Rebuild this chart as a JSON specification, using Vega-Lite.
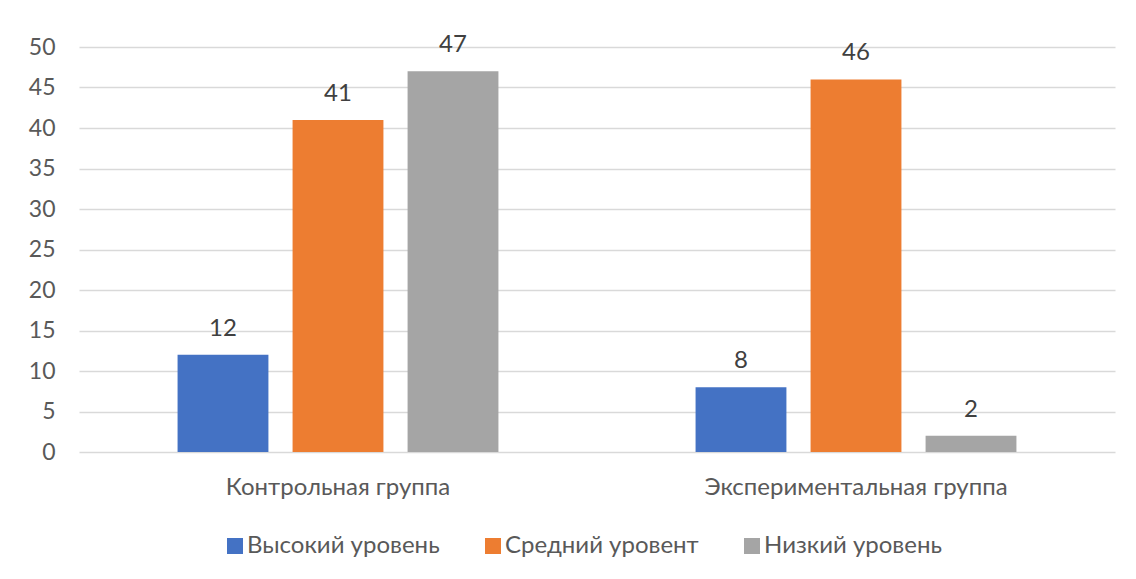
{
  "$schema": "https://vega.github.io/schema/vega-lite/v6.json",
  "autosize": {"type": "none"},
  "width": 1036,
  "height": 405,
  "padding": {"left": 79, "top": 47, "right": 21, "bottom": 127},
  "background": "#ffffff",
  "config": {
    "font": "Lato",
    "view": {"stroke": null},
    "axis": {"labelFont": "Lato", "labelColor": "#595959", "labelFontSize": 24, "labelLimit": 0}
  },
  "data": {
    "values": [
      {"group": "Контрольная группа", "level": "Высокий уровень", "value": 12},
      {"group": "Контрольная группа", "level": "Средний уровент", "value": 41},
      {"group": "Контрольная группа", "level": "Низкий уровень", "value": 47},
      {"group": "Экспериментальная группа", "level": "Высокий уровень", "value": 8},
      {"group": "Экспериментальная группа", "level": "Средний уровент", "value": 46},
      {"group": "Экспериментальная группа", "level": "Низкий уровень", "value": 2}
    ]
  },
  "encoding": {
    "x": {
      "field": "group",
      "type": "nominal",
      "sort": null,
      "scale": {"paddingInner": 0, "paddingOuter": 0},
      "axis": {"title": null, "labelAngle": 0, "domain": false, "ticks": false, "labelPadding": 23}
    },
    "xOffset": {
      "field": "level",
      "type": "nominal",
      "sort": ["Высокий уровень", "Средний уровент", "Низкий уровень"],
      "scale": {"paddingInner": 0.21, "paddingOuter": 0.857}
    },
    "y": {
      "field": "value",
      "type": "quantitative",
      "scale": {"domain": [0, 50], "nice": false},
      "axis": {
        "title": null,
        "values": [0, 5, 10, 15, 20, 25, 30, 35, 40, 45, 50],
        "domain": false,
        "ticks": false,
        "labelFontSize": 23,
        "labelPadding": 24,
        "gridColor": "#d9d9d9",
        "gridWidth": 1.3
      }
    }
  },
  "layer": [
    {
      "mark": {"type": "bar"},
      "encoding": {
        "color": {
          "field": "level",
          "type": "nominal",
          "scale": {
            "domain": ["Высокий уровень", "Средний уровент", "Низкий уровень"],
            "range": ["#4472c4", "#ed7d31", "#a5a5a5"]
          },
          "legend": {
            "title": null,
            "orient": "none",
            "direction": "horizontal",
            "legendX": 144,
            "legendY": 487,
            "padding": 0,
            "symbolType": "square",
            "symbolSize": 256,
            "symbolStrokeWidth": 0,
            "symbolOpacity": 1,
            "labelFont": "Lato",
            "labelFontSize": 24,
            "labelLimit": 0,
            "labelColor": "#595959",
            "labelOffset": 0,
            "columnPadding": 41
          }
        }
      }
    },
    {
      "mark": {"type": "text", "baseline": "alphabetic", "dy": -19, "fontSize": 24, "color": "#404040", "font": "Lato"},
      "encoding": {
        "text": {"field": "value", "type": "quantitative"}
      }
    }
  ]
}
